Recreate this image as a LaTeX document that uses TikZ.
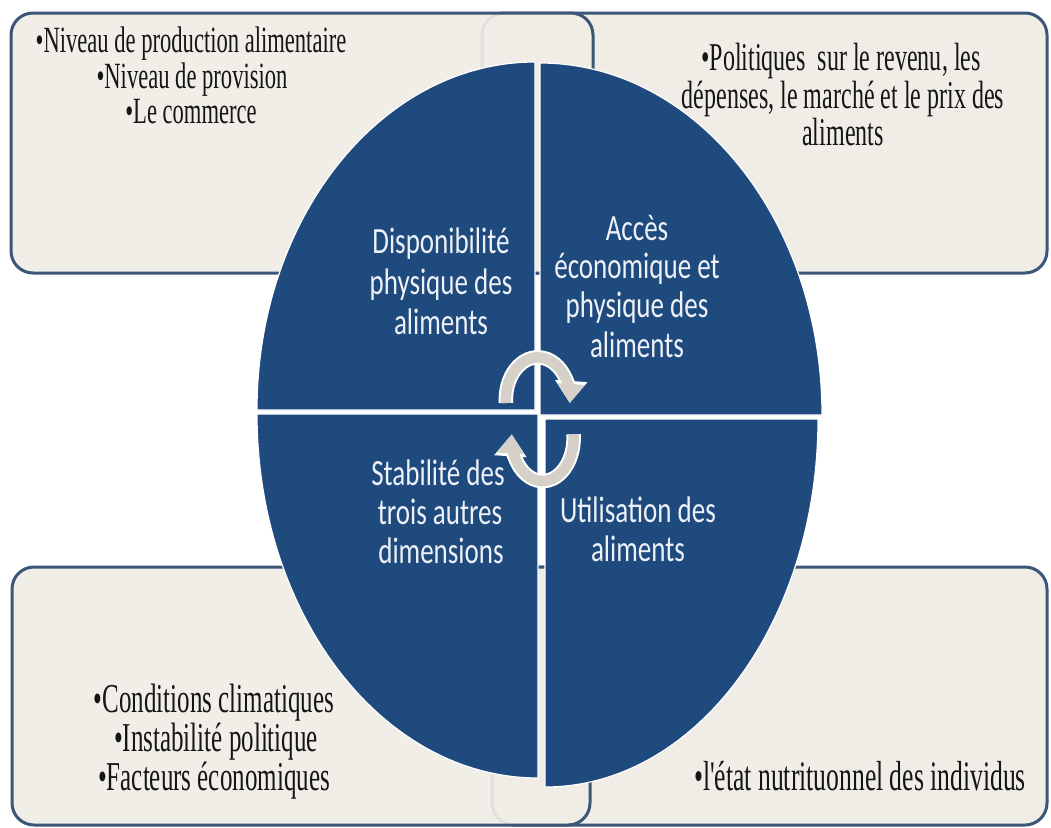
\documentclass[tikz,border=0pt]{standalone}
\usepackage{fontspec}
\usetikzlibrary{arrows.meta}
\newfontfamily\boxserif[FakeStretch=0.61]{Liberation Serif}
\newfontfamily\circsans[FakeStretch=0.73]{Carlito}
\definecolor{quadblue}{HTML}{1F4A7E}
\definecolor{boxfill}{HTML}{EFEDE6}
\definecolor{boxline}{HTML}{3C5677}
\definecolor{arrowgray}{HTML}{D6D1C8}
\definecolor{circtext}{HTML}{EEF1F8}
\definecolor{boxtext}{HTML}{151515}
\tikzset{
  boxshape/.style={draw=boxline, line width=3pt, fill=boxfill, rounded corners=22pt},
  quadfill/.style={fill=quadblue, draw=white, line width=1.2pt},
  boxtxt/.style={font=\boxserif\fontsize{#1}{#1}\selectfont, anchor=base, inner sep=0pt, text=boxtext},
  circtxt/.style={font=\circsans\fontsize{37}{40}\selectfont, anchor=base, inner sep=0pt, text=circtext},
  rimarrow/.style={draw=white, line width=14.5pt, -{Triangle[width=31pt,length=22pt]}},
  bodyarrow/.style={draw=arrowgray, line width=10.5pt, -{Triangle[width=26pt,length=19pt]}},
}
\begin{document}
\begin{tikzpicture}[x=1pt,y=-1pt]
\fill[white] (0,0) rectangle (1051,827);
\useasboundingbox (0,0) rectangle (1051,827);

% boxes (right ones first, left ones on top, slightly see-through)
\path[boxshape] (482,13) rectangle (1047,273);
\path[boxshape, fill opacity=0.92] (11,13) rectangle (593,273);
\path[boxshape] (492,567) rectangle (1047,825);
\path[boxshape, fill opacity=0.92] (12,567) rectangle (590,825);

% circle quadrants
\path[quadfill] (535,410) -- (257,410) arc[start angle=180,end angle=270,x radius=278,y radius=348] -- cycle;
\path[quadfill] (540,415) -- (540,63) arc[start angle=270,end angle=360,x radius=282,y radius=352] -- cycle;
\path[quadfill] (545,419) -- (818,419) arc[start angle=0,end angle=90,x radius=273,y radius=368] -- cycle;
\path[quadfill] (538,414) -- (538,778) arc[start angle=90,end angle=180,x radius=281,y radius=364] -- cycle;

% cycle arrows
\draw[rimarrow] (506,403) arc[start angle=175,end angle=365,x radius=32,y radius=42];
\draw[bodyarrow] (506,403) arc[start angle=175,end angle=365,x radius=32,y radius=42];
\draw[rimarrow] (573.5,434.3) arc[start angle=-5,end angle=185,x radius=31,y radius=43];
\draw[bodyarrow] (573.5,434.3) arc[start angle=-5,end angle=185,x radius=31,y radius=43];

% box texts
\node[boxtxt=37] (tla) at (191,52) {•Niveau de production alimentaire};
\node[boxtxt=37] (tlb) at (192,88) {•Niveau de provision};
\node[boxtxt=37] (tlc) at (191,123) {•Le commerce};

\node[boxtxt=39.4] (tra) at (841,70) {•Politiques~ sur le revenu, les};
\node[boxtxt=39.4] (trb) at (843,108) {dépenses, le marché et le prix des};
\node[boxtxt=39.4] (trc) at (843,145) {aliments};

\node[boxtxt=41] (bla) at (214,712) {•Conditions climatiques};
\node[boxtxt=41] (blb) at (216,751) {•Instabilité politique};
\node[boxtxt=41] (blc) at (214,790) {•Facteurs économiques};

\node[boxtxt=42] (bra) at (860,790) {•l'état nutrituonnel des individus};

% circle texts
\node[circtxt] (qa1) at (441,253) {Disponibilité};
\node[circtxt] (qa2) at (441,294) {physique des};
\node[circtxt] (qa3) at (441,334) {aliments};

\node[circtxt] (qb1) at (637,240) {Accès};
\node[circtxt] (qb2) at (637,278) {économique et};
\node[circtxt] (qb3) at (637,317) {physique des};
\node[circtxt] (qb4) at (637,357) {aliments};

\node[circtxt] (qc1) at (438,485) {Stabilité des};
\node[circtxt] (qc2) at (440,524) {trois autres};
\node[circtxt] (qc3) at (441,563) {dimensions};

\node[circtxt] (qd1) at (638,522) {Utilisation des};
\node[circtxt] (qd2) at (638,561) {aliments};
\end{tikzpicture}
\end{document}
